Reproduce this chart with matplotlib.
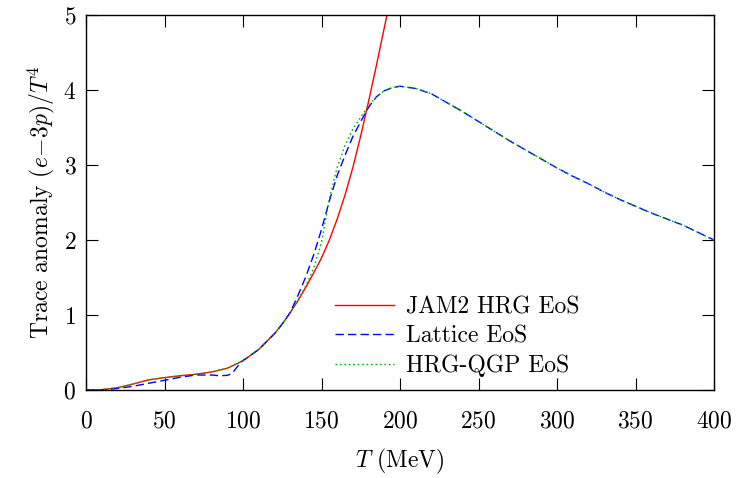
import matplotlib
matplotlib.use("Agg")
import matplotlib.pyplot as plt

plt.rcParams['font.family'] = 'serif'
plt.rcParams['font.serif'] = ['cmr10']
plt.rcParams['mathtext.fontset'] = 'cm'
plt.rcParams['axes.formatter.use_mathtext'] = True

# JAM2 HRG EoS
T_jam = [0, 10, 20, 30, 40, 50, 60, 70, 80, 90, 100, 110, 120, 125, 130, 135, 140, 145,
         150, 155, 160, 165, 170, 175, 180, 185, 190, 192]
v_jam = [0, 0.005, 0.03, 0.08, 0.135, 0.165, 0.19, 0.21, 0.24, 0.29, 0.39, 0.54, 0.75,
         0.88, 1.03, 1.19, 1.37, 1.56, 1.76, 2.0, 2.28, 2.6, 2.97, 3.39, 3.85, 4.33,
         4.83, 5.03]

# Lattice EoS
T_lat = [0, 10, 20, 30, 40, 50, 60, 70, 80, 85, 90, 93, 96, 99, 102, 110, 120, 125, 130,
         135, 140, 145, 150, 155, 160, 165, 170, 175, 180, 185, 190, 195, 200, 210,
         220, 230, 240, 250, 260, 270, 280, 290, 300, 310, 320, 330, 340, 350, 360,
         370, 380, 390, 400]
v_lat = [0, 0.0, 0.02, 0.05, 0.09, 0.13, 0.17, 0.2, 0.2, 0.19, 0.195, 0.22, 0.3, 0.38,
         0.42, 0.54, 0.75, 0.88, 1.03, 1.26, 1.51, 1.8, 2.14, 2.52, 2.86, 3.13, 3.38,
         3.58, 3.77, 3.91, 3.99, 4.03, 4.05, 4.02, 3.95, 3.83, 3.71, 3.58, 3.45, 3.32,
         3.2, 3.08, 2.96, 2.85, 2.75, 2.64, 2.54, 2.45, 2.36, 2.28, 2.2, 2.1, 2.0]

# HRG-QGP EoS
T_hq = [0, 10, 20, 30, 40, 50, 60, 70, 80, 90, 100, 110, 120, 125, 130, 135, 140, 145,
        150, 155, 160, 165, 170, 175, 180, 185, 190, 195, 200, 210,
        220, 230, 240, 250, 260, 270, 280, 290, 300, 310, 320, 330, 340, 350, 360,
        370, 380, 390, 400]
v_hq = [0, 0.005, 0.03, 0.08, 0.135, 0.165, 0.19, 0.21, 0.24, 0.29, 0.39, 0.54, 0.75,
        0.88, 1.03, 1.2, 1.39, 1.62, 1.97, 2.55, 2.97, 3.26, 3.48, 3.64, 3.79, 3.91,
        3.99, 4.03, 4.05, 4.02, 3.95, 3.83, 3.71, 3.58, 3.45, 3.32, 3.2, 3.08, 2.96,
        2.85, 2.75, 2.64, 2.54, 2.45, 2.36, 2.28, 2.2, 2.1, 2.0]

x_ticks = [0, 50, 100, 150, 200, 250, 300, 350, 400]
y_ticks = [0, 1, 2, 3, 4, 5]

fig = plt.figure(figsize=(7.42, 4.78), dpi=100)
ax = fig.add_axes([86/742, 1-390/478, 628/742, 375/478])

ax.plot(T_jam, v_jam, color='#ff0000', lw=1.0, label='JAM2 HRG EoS')
ax.plot(T_lat, v_lat, color='#0000ff', lw=1.0, dashes=(6, 3), label='Lattice EoS')
ax.plot(T_hq, v_hq, color='#00b000', lw=1.0, dashes=(1.2, 2.0), label='HRG-QGP EoS')

ax.set_xlim(0, 400)
ax.set_ylim(0, 5)
ax.set_xticks(x_ticks)
ax.set_yticks(y_ticks)
ax.tick_params(direction='in', top=True, right=True, length=8.5, width=0.8,
               labelsize=17)
ax.tick_params(axis='x', pad=15)
ax.tick_params(axis='y', pad=7)
for s in ax.spines.values():
    s.set_linewidth(1.0)

ax.set_xlabel(r'$T$ (MeV)', fontsize=17, labelpad=10)
ax.set_ylabel(r'Trace anomaly $(e\!-\!3p)/T^4$', fontsize=17, labelpad=4.5)

leg = ax.legend(loc='upper left', bbox_to_anchor=(0.397, 0.249), frameon=False,
                fontsize=17, handlelength=2.5, handletextpad=0.5, labelspacing=0.29,
                borderpad=0, borderaxespad=0)

fig.savefig('out.png', dpi=100)
